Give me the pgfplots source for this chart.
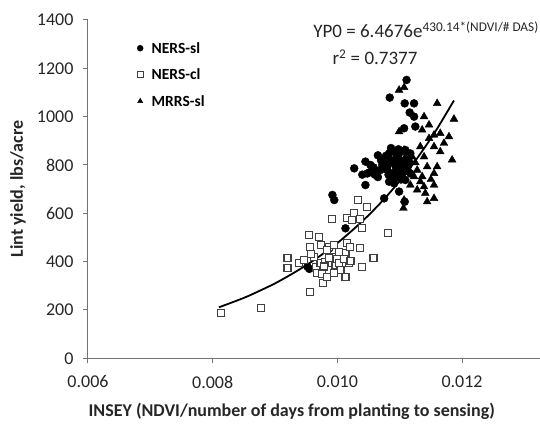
\documentclass[border=0pt]{standalone}
\usepackage{pgfplots}
\pgfplotsset{compat=1.18}
\usepackage{fontspec}
\setmainfont{Carlito}
\begin{document}
\begin{tikzpicture}
\useasboundingbox (-88pt,-69.7pt) rectangle (452pt,358.3pt);
\begin{axis}[
  at={(0pt,0pt)}, anchor=south west,
  scale only axis, width=452pt, height=338.3pt,
  xmin=0.006, xmax=0.01325, ymin=0, ymax=1400,
  axis lines=left,
  axis line style={-, black!55, line width=1pt},
  scaled x ticks=false,
  xtick={0.006,0.008,0.010,0.012},
  xticklabels={0.006,0.008,0.010,0.012},
  ytick={0,200,...,1400},
  tick align=outside, major tick length=5pt,
  tick style={black!55, line width=1pt},
  /pgf/number format/assume math mode=true,
  /pgf/number format/1000 sep={},
  tick label style={font=\fontsize{18}{18}\selectfont, text=black!85},
  xticklabel style={yshift=-9pt},
  yticklabel style={xshift=-6pt},
  xlabel={INSEY (NDVI/number of days from planting to sensing)},
  ylabel={Lint yield, lbs/acre},
  label style={font=\bfseries\fontsize{18}{18}\selectfont, text=black!85},
  xlabel style={at={(axis description cs:0.4507,-0.158)}, anchor=center},
  ylabel style={at={(axis description cs:-0.155,0.5)}, anchor=center},
  legend image code/.code={\draw[#1, mark size=3pt] plot coordinates {(0pt,0pt)};},
  legend cell align=left,
  legend style={at={(0,1)}, anchor=north west, xshift=49pt, yshift=-23pt,
    draw=none, fill=none, inner sep=0pt, row sep=16.5pt, column sep=8.5pt,
    font=\bfseries\fontsize{15.5}{15.5}\selectfont,
    nodes={inner sep=0pt, text height=10pt, text depth=0pt}},
]
% NERS-sl
\addplot[only marks, mark=*, mark size=4pt, black] coordinates {
(0.00952,379) (0.00955,370) (0.00987,455) (0.00992,676) (0.00995,655)
(0.01013,538) (0.01027,786) (0.01045,717) (0.01045,814) (0.01048,765)
(0.01053,800) (0.01061,765) (0.01069,779) (0.01075,807) (0.01075,662)
(0.01080,793) (0.01083,848) (0.01083,731) (0.01084,1079) (0.01085,821)
(0.01088,765) (0.01091,855) (0.01091,724) (0.01093,800) (0.01096,759)
(0.01099,848) (0.01099,779) (0.01099,690) (0.01108,648) (0.01104,807)
(0.01107,772) (0.01107,952) (0.01108,1055) (0.01109,862) (0.01109,738)
(0.01111,1152) (0.01112,793) (0.01115,814) (0.01116,1017) (0.01117,848)
(0.01117,765) (0.01123,1055) (0.01123,1000) (0.01125,959) (0.01060,760)
(0.01078,838) (0.01095,830) (0.01065,750) (0.01102,740) (0.01070,820)
(0.01065,840) (0.01072,800) (0.01080,780) (0.01088,810) (0.01094,790)
(0.01100,820) (0.01106,790) (0.01110,825) (0.01114,800) (0.01082,760)
(0.01090,745) (0.01097,770) (0.01103,760) (0.01058,790) (0.01052,770)
(0.01040,760) (0.01086,870) (0.01098,865) (0.01112,845)
};
\addlegendentry{NERS-sl}
% NERS-cl
\addplot[only marks, mark=square*, mark size=3.5pt, draw=black!75, fill=white, mark options={line width=1.1pt}] coordinates {
(0.00813,186) (0.00877,207) (0.00920,414) (0.00920,375) (0.00938,393)
(0.00947,407) (0.00955,510) (0.00956,459) (0.00956,276) (0.00965,379)
(0.00968,352) (0.00971,501) (0.00973,393) (0.00974,469) (0.00976,349)
(0.00977,310) (0.00984,338) (0.00987,462) (0.00989,393) (0.00991,577)
(0.00992,421) (0.00995,469) (0.00997,386) (0.01005,366) (0.01008,393)
(0.01013,338) (0.01013,434) (0.01016,476) (0.01016,579) (0.01019,393)
(0.01020,462) (0.01024,572) (0.01027,600) (0.01033,655) (0.01036,455)
(0.01037,575) (0.01040,538) (0.01040,379) (0.01048,625) (0.01058,414)
(0.01081,517) (0.00962,420) (0.00980,400) (0.00983,450) (0.00999,410)
(0.01002,395) (0.00978,380) (0.00994,352) (0.01010,410) (0.00958,430)
(0.01003,440) (0.00986,415) (0.01021,402)
};
\addlegendentry{NERS-cl}
% MRRS-sl
\addplot[only marks, mark=triangle*, mark size=4.5pt, black] coordinates {
(0.01099,1110) (0.01107,1121) (0.01160,1055) (0.01187,990) (0.01139,1000)
(0.01147,966) (0.01136,945) (0.01155,924) (0.01165,931) (0.01179,917)
(0.01171,890) (0.01155,876) (0.01165,855) (0.01147,910) (0.01133,876)
(0.01184,821) (0.01139,834) (0.01144,793) (0.01160,793) (0.01128,779)
(0.01123,752) (0.01136,752) (0.01155,765) (0.01117,717) (0.01133,731)
(0.01155,717) (0.01139,710) (0.01128,697) (0.01141,683) (0.01144,648)
(0.01155,662) (0.01106,621) (0.01107,655) (0.01109,793) (0.01120,834)
(0.01107,862) (0.01099,938) (0.01115,780) (0.01125,810) (0.01150,740)
};
\addlegendentry{MRRS-sl}
% exponential trend line
\addplot[black, line width=1.8pt, smooth, no marks, forget plot] coordinates {
(0.00810,211) (0.00850,250) (0.00875,279) (0.00900,310) (0.00925,346)
(0.00950,385) (0.00975,429) (0.01000,477) (0.01025,532) (0.01050,592)
(0.01075,659) (0.01100,734) (0.01125,817) (0.01150,910) (0.01160,950)
(0.01187,1067)
};
\node[font=\fontsize{19}{19}\selectfont, text=black!85] at (rel axis cs:0.748,0.972)
  {YP0 = 6.4676e\textsuperscript{430.14*(NDVI/\# DAS)}};
\node[font=\fontsize{19}{19}\selectfont, text=black!85] at (rel axis cs:0.635,0.89)
  {r\textsuperscript{2} = 0.7377};
\end{axis}
\end{tikzpicture}
\end{document}
